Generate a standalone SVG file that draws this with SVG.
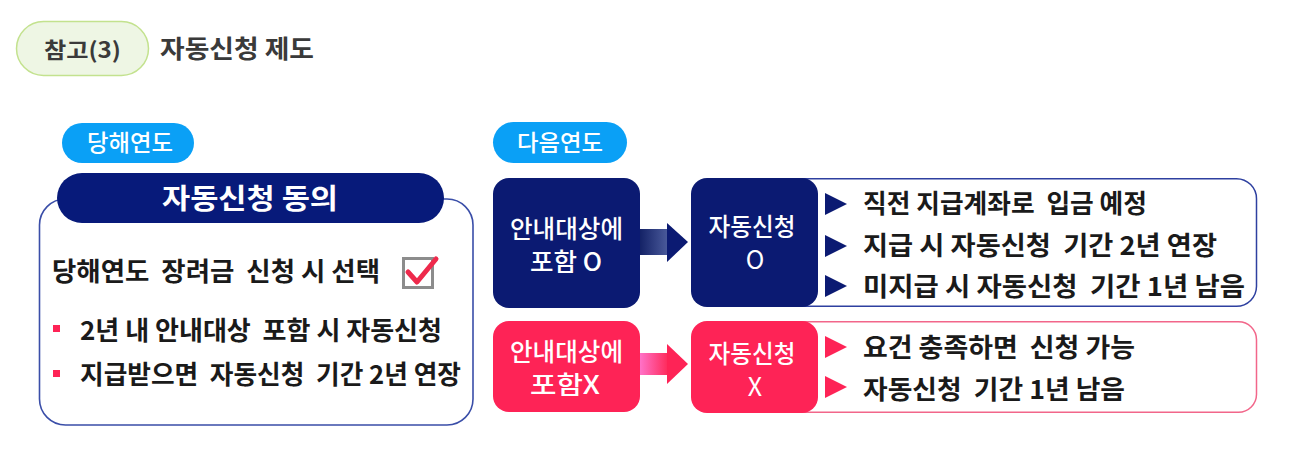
<svg xmlns="http://www.w3.org/2000/svg" width="1289" height="460" viewBox="0 0 1289 460">
<style>
.kb{font-family:"Noto Sans CJK KR","Noto Sans",sans-serif;font-weight:700;fill:#1a1a1a;font-size:26px;white-space:pre}
.kw{font-family:"Noto Sans CJK KR","Noto Sans",sans-serif;font-weight:500;fill:#ffffff;font-size:25px;text-anchor:middle}
.navy{fill:#0b1a72}
.pink{fill:#fe2356}
.pill{fill:#0aa0f6}
.tri-n{fill:#0b1a72}
.tri-p{fill:#fe2356}
</style>
<defs>
<linearGradient id="gN" x1="0" y1="0" x2="1" y2="0">
<stop offset="0" stop-color="#142266"/>
<stop offset="1" stop-color="#4b5b9c"/>
</linearGradient>
<linearGradient id="gP" x1="0" y1="0" x2="1" y2="0">
<stop offset="0" stop-color="#ff72c8"/>
<stop offset="1" stop-color="#fe2a5a"/>
</linearGradient>
</defs>
<rect width="1289" height="460" fill="#ffffff"/>

<g id="title">
<rect x="16.5" y="21.5" width="132" height="54" rx="27" fill="#eef6e4" stroke="#c3e28e" stroke-width="1.5"/>
<text x="44" y="58" class="kb" style="font-size:22px;fill:#3a3a3a" textLength="77" lengthAdjust="spacingAndGlyphs">참고(3)</text>
<text x="160" y="58" class="kb" style="font-size:25px;fill:#3a3a3a" textLength="154" lengthAdjust="spacingAndGlyphs">자동신청 제도</text>
</g>

<g id="pill-current">
<rect x="62" y="123" width="132" height="40" rx="20" class="pill"/>
<text x="130" y="151" class="kw" style="font-size:23px" textLength="86" lengthAdjust="spacingAndGlyphs">당해연도</text>
</g>

<g id="pill-next">
<rect x="493" y="122" width="134" height="41" rx="20.5" class="pill"/>
<text x="560" y="151" class="kw" style="font-size:23px" textLength="86" lengthAdjust="spacingAndGlyphs">다음연도</text>
</g>

<g id="current-year">
<rect x="39.5" y="199" width="433.5" height="226" rx="26" fill="#ffffff" stroke="#3a4ea8" stroke-width="1.6"/>
<rect x="57" y="173" width="387" height="50" rx="25" fill="#071a7a"/>
<text x="250" y="209" class="kw" style="font-size:28px;font-weight:700" textLength="176" lengthAdjust="spacingAndGlyphs">자동신청 동의</text>
<text x="52" y="281" class="kb" textLength="328" lengthAdjust="spacingAndGlyphs">당해연도  장려금  신청 시 선택</text>
<rect x="403.5" y="258.5" width="29" height="29" fill="#ffffff" stroke="#8c8c8c" stroke-width="3"/>
<polyline points="408,272 417,282 436,259" fill="none" stroke="#ee2a4c" stroke-width="5" stroke-linejoin="round" stroke-linecap="round"/>
<rect x="53" y="325" width="7" height="7" fill="#fe2356"/>
<text x="80" y="340" class="kb" textLength="362" lengthAdjust="spacingAndGlyphs">2년 내 안내대상  포함 시 자동신청</text>
<rect x="53" y="370" width="7" height="7" fill="#fe2356"/>
<text x="80" y="384" class="kb" textLength="381" lengthAdjust="spacingAndGlyphs">지급받으면  자동신청  기간 2년 연장</text>
</g>

<g id="included-o">
<rect x="493" y="178" width="147" height="130" rx="16" class="navy"/>
<text x="566.5" y="238" class="kw" textLength="113" lengthAdjust="spacingAndGlyphs">안내대상에</text>
<text x="566" y="271" class="kw" textLength="72" lengthAdjust="spacingAndGlyphs">포함 O</text>
</g>

<g id="auto-o">
<rect x="760" y="178.7" width="496.5" height="127.6" rx="20" fill="#ffffff" stroke="#2e40a0" stroke-width="1.5"/>
<rect x="691" y="178" width="127" height="129" rx="16" class="navy"/>
<text x="752" y="236" class="kw" textLength="87" lengthAdjust="spacingAndGlyphs">자동신청</text>
<text x="755" y="269" class="kw" style="font-weight:400">O</text>
<polygon points="825,193 847,204 825,215" class="tri-n"/>
<polygon points="825,235 847,246 825,257" class="tri-n"/>
<polygon points="825,275 847,286 825,297" class="tri-n"/>
<text x="863" y="213" class="kb" textLength="284" lengthAdjust="spacingAndGlyphs">직전 지급계좌로  입금 예정</text>
<text x="863" y="255" class="kb" textLength="354" lengthAdjust="spacingAndGlyphs">지급 시 자동신청  기간 2년 연장</text>
<text x="863" y="296" class="kb" textLength="382" lengthAdjust="spacingAndGlyphs">미지급 시 자동신청  기간 1년 남음</text>
</g>

<g id="included-x">
<rect x="493" y="321" width="147" height="91" rx="16" class="pink"/>
<text x="566.5" y="361" class="kw" textLength="113" lengthAdjust="spacingAndGlyphs">안내대상에</text>
<text x="565" y="394" class="kw" textLength="70" lengthAdjust="spacingAndGlyphs">포함X</text>
</g>

<g id="auto-x">
<rect x="760" y="321.7" width="496.5" height="90.6" rx="18" fill="#ffffff" stroke="#f2668a" stroke-width="1.5"/>
<rect x="691" y="321" width="127" height="92" rx="16" class="pink"/>
<text x="752" y="363" class="kw" textLength="87" lengthAdjust="spacingAndGlyphs">자동신청</text>
<text x="755" y="396" class="kw" style="font-weight:400">X</text>
<polygon points="825,336 847,347 825,358" class="tri-p"/>
<polygon points="825,376 847,387 825,398" class="tri-p"/>
<text x="863" y="357" class="kb" textLength="272" lengthAdjust="spacingAndGlyphs">요건 충족하면  신청 가능</text>
<text x="863" y="399" class="kb" textLength="262" lengthAdjust="spacingAndGlyphs">자동신청  기간 1년 남음</text>
</g>

<g id="connectors">
<rect x="640" y="229" width="28" height="26" fill="url(#gN)"/>
<polygon points="667,223 688,242 667,262" class="navy"/>
<rect x="640" y="353" width="28" height="22" fill="url(#gP)"/>
<polygon points="667,344 688,364 667,384" class="pink"/>
</g>
</svg>
